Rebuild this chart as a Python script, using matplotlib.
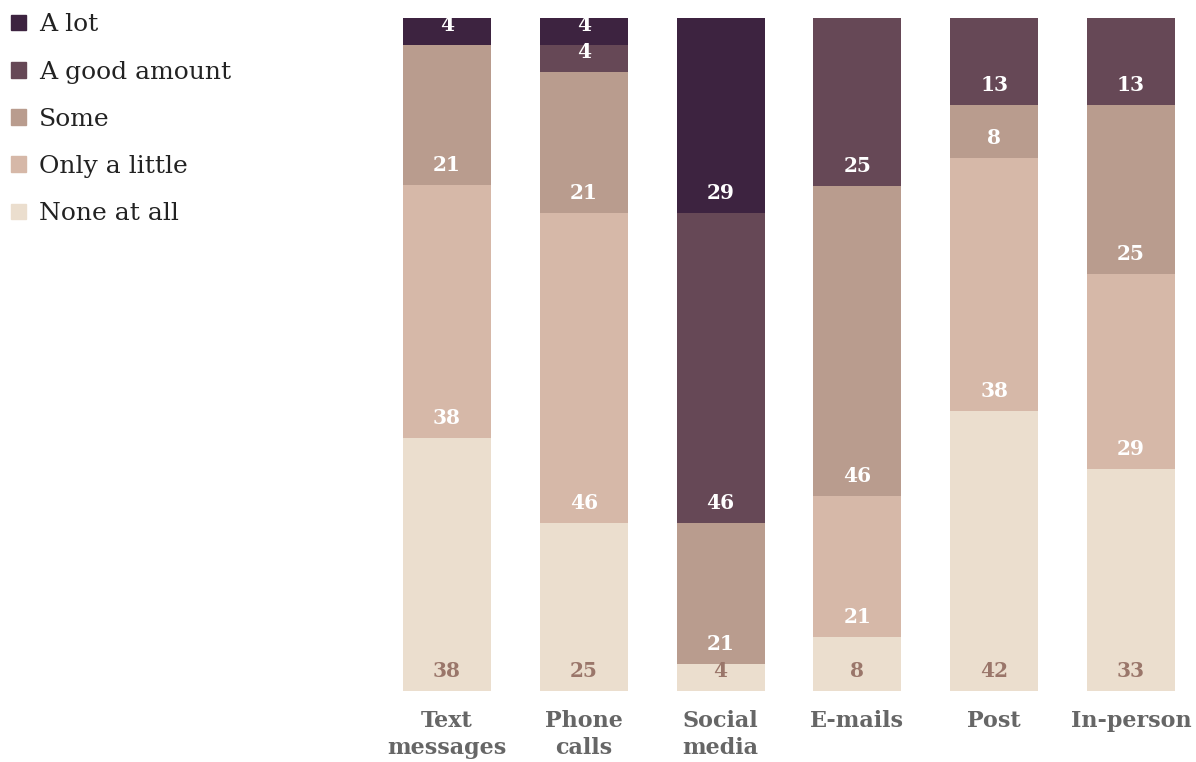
import matplotlib.pyplot as plt
from matplotlib.patches import Patch
import numpy as np

categories = ['Text\nmessages', 'Phone\ncalls', 'Social\nmedia', 'E-mails', 'Post', 'In-person']
levels = ['None at all', 'Only a little', 'Some', 'A good amount', 'A lot']

# values per level, bottom of the stack first
none_at_all = [38, 25, 4, 8, 42, 33]
only_a_little = [38, 46, 0, 21, 38, 29]
some = [21, 21, 21, 46, 8, 25]
good_amount = [0, 4, 46, 25, 13, 13]
a_lot = [4, 4, 29, 0, 0, 0]

colors = ['#ebdece', '#d6b8a8', '#b99c8e', '#664856', '#3d2340']
label_colors = ['#9a766a', 'white', 'white', 'white', 'white']

series = np.array([none_at_all, only_a_little, some, good_amount, a_lot], dtype=float)
totals = series.sum(axis=0)
shares = series / totals * 100

fig = plt.figure(figsize=(11.96, 7.62), dpi=100)
ax = fig.add_axes([403 / 1196, 71 / 762, 772 / 1196, 673 / 762])

x = np.arange(len(categories))
bottom = np.zeros(len(categories))
for i, level in enumerate(levels):
    ax.bar(x, shares[i], bottom=bottom, width=0.643, color=colors[i], linewidth=0)
    for j in range(len(categories)):
        if series[i, j] > 0:
            ax.annotate(str(int(series[i, j])), (x[j], bottom[j]),
                        xytext=(0, 20), textcoords='offset pixels',
                        ha='center', va='center', fontsize=14.5,
                        fontweight='bold', family='DejaVu Serif',
                        color=label_colors[i])
    bottom += shares[i]

ax.set_xlim(-0.322, 5.322)
ax.set_ylim(0, 100)
ax.set_xticks(x)
ax.set_xticklabels(categories, family='DejaVu Serif', fontweight='bold',
                   fontsize=16, color='#666666', linespacing=1.25)
ax.tick_params(axis='x', length=0, pad=14)
ax.set_yticks([])
for s in ax.spines.values():
    s.set_visible(False)

handles = [Patch(color=colors[i], label=levels[i]) for i in range(len(levels) - 1, -1, -1)]
fig.legend(handles=handles, loc='upper left', bbox_to_anchor=(-0.010, 1.012),
           frameon=False, prop={'family': 'DejaVu Serif', 'size': 18},
           handlelength=0.6, handleheight=0.6, handletextpad=0.55,
           labelspacing=0.97, labelcolor='#222222')

fig.savefig('out.png', dpi=100)
